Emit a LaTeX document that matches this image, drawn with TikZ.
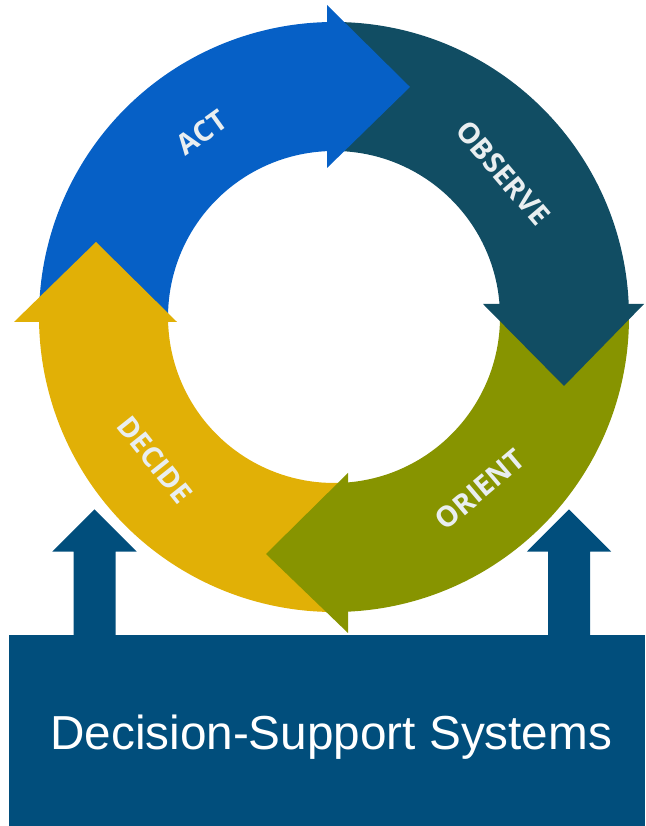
\documentclass[tikz,border=0pt]{standalone}
\usepackage{fontspec}
\setmainfont{Liberation Sans}
\newfontfamily\ringfont{Open Sans}
\definecolor{actblue}{HTML}{0660C6}
\definecolor{observeteal}{HTML}{114D63}
\definecolor{orientolive}{HTML}{879400}
\definecolor{decideyellow}{HTML}{E1B006}
\definecolor{dssblue}{HTML}{014E7C}
\definecolor{labelgray}{HTML}{E9EEF0}
% radii of the cycle ring
\def\Rout{295}
\def\Rin{166}
% annular band of the ring: colour, start angle, end angle (clockwise)
\newcommand{\ringband}[3]{%
  \fill[#1] ([shift={(#2:\Rout)}]C) arc[start angle=#2, end angle=#3, radius=\Rout]
    -- ([shift={(#3:\Rin)}]C) arc[start angle=#3, end angle=#2, radius=\Rin] -- cycle;}
\begin{document}
\begin{tikzpicture}[x=1pt,y=1pt,
  ringlabel/.style={text=labelgray, inner sep=0pt,
    font=\ringfont\bfseries\fontsize{28.5}{29}\selectfont},
  dssbox/.style={fill=dssblue, draw=none, inner sep=0pt, anchor=south west,
    minimum width=636pt, minimum height=191pt},
  dsstext/.style={text=white, inner sep=0pt, anchor=base,
    font=\fontsize{47.7}{50}\selectfont},
  feed/.style={fill=dssblue}]
\useasboundingbox (0,0) rectangle (645,826);
\coordinate (C) at (334,509);

% shafts of the four cycle arrows
\ringband{actblue}{179.7}{89.4}
\ringband{observeteal}{89.9}{1.2}
\ringband{orientolive}{1.7}{-88}
\ringband{decideyellow}{272}{179.2}

% arrow heads, each lying over the start of the next stage
\fill[actblue] (327,821) -- (410,739) -- (327,658) -- cycle;
\fill[observeteal] (483,522) -- (564,440) -- (644,522) -- cycle;
\fill[orientolive] (348,353) -- (266,272) -- (348,193) -- cycle;
\fill[decideyellow] (14,504) -- (96,584) -- (177,504) -- cycle;

% stage names
\node[ringlabel, rotate=35.6] (act) at ([shift={(125.6:227)}]C) {ACT};
\node[ringlabel, rotate=-49.6] (observe) at ([shift={(40.4:222)}]C) {OBSERVE};
\node[ringlabel, rotate=40.2] (orient) at ([shift={(-49.8:226)}]C) {ORIENT};
\node[ringlabel, rotate=-51.4] (decide) at ([shift={(218.6:229)}]C) {DECIDE};

% decision-support block
\node[dssbox] (dss) at (9,0) {};
\node[dsstext] (dsslabel) at ([shift={(4,-19.5)}]dss.center) {Decision-Support Systems};

% feed arrows from the block into the cycle
\coordinate (feedleft) at (94.5,316.7);
\coordinate (feedright) at (569,316.7);
\foreach \t in {feedleft,feedright}{
  \fill[feed] (\t) -- ++(42.2,-42.4) -- ++(-21.2,0)
    -- ([shift={(21,-1)}]\t |- dss.north) -- ([shift={(-21,-1)}]\t |- dss.north)
    -- ([xshift=-21pt]\t |- 0,274.3) -- ++(-21.2,0) -- cycle;
}
\end{tikzpicture}
\end{document}
